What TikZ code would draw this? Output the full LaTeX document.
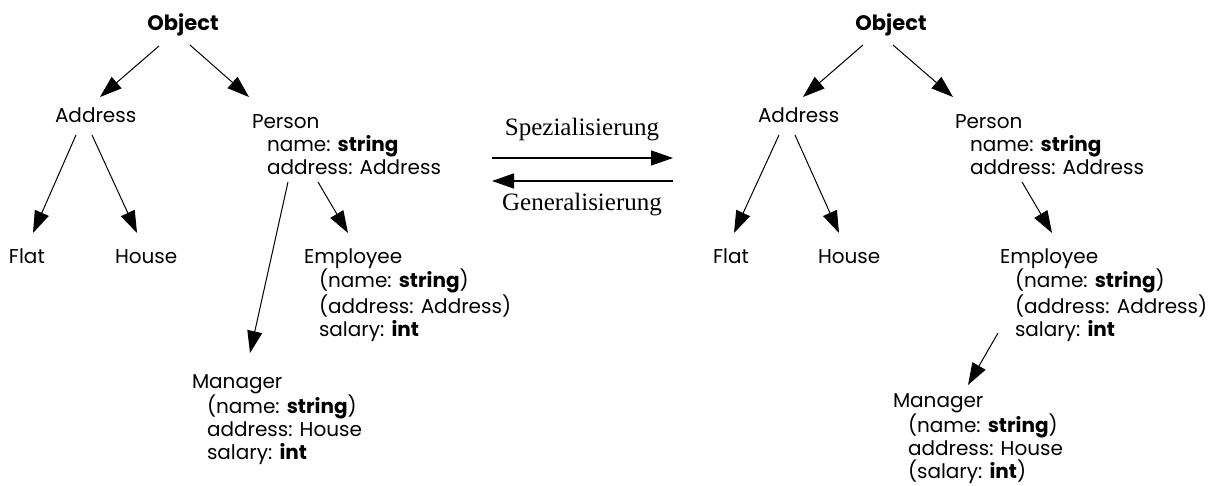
\documentclass[tikz,border=0pt]{standalone}
\usepackage{fontspec}
\setmainfont{Poppins}
\newfontfamily\labelserif{Liberation Serif}
\usetikzlibrary{arrows.meta}

% one class box: first line at the node's baseline, further lines indented
\newcommand{\klass}[2]{\vtop{\hbox{#1}#2}}
\newcommand{\attr}[1]{\hbox{\hspace*{15pt}#1}}

\begin{document}
\begin{tikzpicture}[x=1pt,y=-1pt,
  cls/.style={anchor=base west,inner sep=0pt,outer sep=0pt,
    font=\fontsize{20pt}{23pt}\selectfont},
  rootcls/.style={anchor=base,inner sep=0pt,outer sep=0pt,
    font=\fontsize{21pt}{23pt}\selectfont\bfseries},
  mid/.style={inner sep=0pt,font=\labelserif\fontsize{25pt}{28pt}\selectfont},
  arr/.style={line width=1pt,-{Triangle[length=22pt,width=15pt]}}]
\useasboundingbox (0,0) rectangle (1208,485);

% ---------------- left hierarchy ----------------
\node[rootcls] (objL) at (183,30) {Object};
\node[cls] (addrL) at (55,122)  {Address};
\node[cls] (persL) at (252,128) {\klass{Person}{\attr{name: \textbf{string}}\attr{address: Address}}};
\node[cls] (flatL) at (9,263)   {Flat};
\node[cls] (housL) at (115,263) {House};
\node[cls] (emplL) at (304,263) {\klass{Employee}{\attr{(name: \textbf{string})}\attr{(address: Address)}\attr{salary: \textbf{int}}}};
\node[cls] (mgrL)  at (192,388) {\klass{Manager}{\attr{(name: \textbf{string})}\attr{address: House}\attr{salary: \textbf{int}}}};

\coordinate (oaL1) at (159,46);  \coordinate (oaL2) at (100,97);
\coordinate (opL1) at (190,45);  \coordinate (opL2) at (249,97);
\coordinate (afL1) at (76,135);  \coordinate (afL2) at (33,233);
\coordinate (ahL1) at (92,135);  \coordinate (ahL2) at (137,233);
\coordinate (peL1) at (318,182); \coordinate (peL2) at (348,233);
\coordinate (pmL1) at (288,182); \coordinate (pmL2) at (250,353);
\draw[arr] (oaL1) -- (oaL2);
\draw[arr] (opL1) -- (opL2);
\draw[arr] (afL1) -- (afL2);
\draw[arr] (ahL1) -- (ahL2);
\draw[arr] (peL1) -- (peL2);
\draw[arr] (pmL1) -- (pmL2);

% ---------------- transformation arrows ----------------
\node[mid] (spez) at (582,130) {Spezialisierung};
\node[mid] (gen)  at (582,205) {Generalisierung};
\coordinate (s1) at (492,158); \coordinate (s2) at (673,158);
\coordinate (g1) at (673,181); \coordinate (g2) at (492,181);
\draw[arr,line width=1.4pt] (s1) -- (s2);
\draw[arr,line width=1.4pt] (g1) -- (g2);

% ---------------- right hierarchy ----------------
\node[rootcls] (objR) at (891,30) {Object};
\node[cls] (addrR) at (758,122) {Address};
\node[cls] (persR) at (955,128) {\klass{Person}{\attr{name: \textbf{string}}\attr{address: Address}}};
\node[cls] (flatR) at (713,263) {Flat};
\node[cls] (housR) at (818,263) {House};
\node[cls] (emplR) at (1000,263) {\klass{Employee}{\attr{(name: \textbf{string})}\attr{(address: Address)}\attr{salary: \textbf{int}}}};
\node[cls] (mgrR)  at (893,407) {\klass{Manager}{\attr{(name: \textbf{string})}\attr{address: House}\attr{(salary: \textbf{int})}}};

\coordinate (oaR1) at (863,45);  \coordinate (oaR2) at (803,97);
\coordinate (opR1) at (893,45);  \coordinate (opR2) at (953,97);
\coordinate (afR1) at (779,135); \coordinate (afR2) at (734,233);
\coordinate (ahR1) at (795,135); \coordinate (ahR2) at (839,233);
\coordinate (peR1) at (1022,182); \coordinate (peR2) at (1052,233);
\coordinate (emR1) at (998,333); \coordinate (emR2) at (968,385);
\draw[arr] (oaR1) -- (oaR2);
\draw[arr] (opR1) -- (opR2);
\draw[arr] (afR1) -- (afR2);
\draw[arr] (ahR1) -- (ahR2);
\draw[arr] (peR1) -- (peR2);
\draw[arr] (emR1) -- (emR2);
\end{tikzpicture}
\end{document}
